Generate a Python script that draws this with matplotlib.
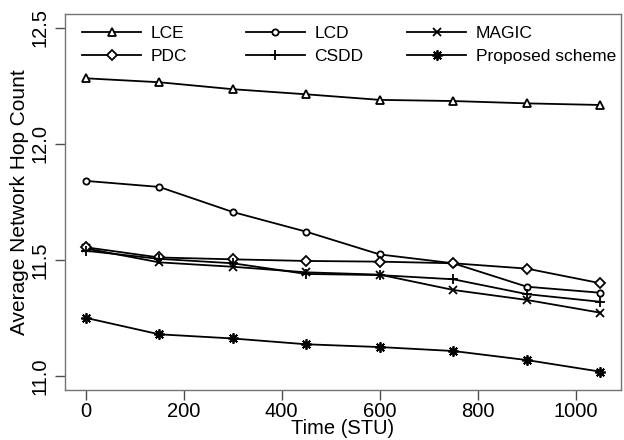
import matplotlib
matplotlib.use("Agg")
import matplotlib.pyplot as plt
from matplotlib.lines import Line2D

plt.rcParams['font.family'] = ['Liberation Sans', 'DejaVu Sans']

# time axis (STU)
time = [0, 150, 300, 450, 600, 750, 900, 1050]

# average network hop count per scheme
lce = [12.283, 12.266, 12.236, 12.214, 12.190, 12.185, 12.175, 12.168]
lcd = [11.841, 11.815, 11.707, 11.622, 11.524, 11.486, 11.385, 11.359]
magic = [11.550, 11.490, 11.471, 11.447, 11.437, 11.371, 11.328, 11.273]
pdc = [11.555, 11.511, 11.503, 11.496, 11.493, 11.486, 11.463, 11.400]
csdd = [11.540, 11.505, 11.486, 11.440, 11.435, 11.417, 11.353, 11.320]
proposed = [11.251, 11.180, 11.162, 11.137, 11.125, 11.108, 11.069, 11.019]

names = ["LCE", "LCD", "MAGIC", "PDC", "CSDD", "Proposed scheme"]
xticks = [0, 200, 400, 600, 800, 1000]
yticks = [11.0, 11.5, 12.0, 12.5]

fig = plt.figure(figsize=(6.24, 4.4), dpi=100)
ax = fig.add_axes([65/624, 1-390/440, (621-65)/624, (390-14)/440])

# marker styles like R pch 2,1,4,5,3,8
styles = [
    dict(marker='^', ms=5.5, mfc='white'),
    dict(marker='o', ms=4.5, mfc='white'),
    dict(marker='x', ms=5.5),
    dict(marker='D', ms=5, mfc='white'),
    dict(marker='+', ms=7.5),
    dict(marker=(8, 2, 0), ms=7.5),
]
series = [lce, lcd, magic, pdc, csdd, proposed]

for vals, st in zip(series, styles):
    ax.plot(time, vals, color='black', lw=1.3, mec='black', mew=1.3, **st)

ax.set_xlim(-42, 1092)
ax.set_ylim(10.94, 12.56)
ax.set_xticks(xticks)
ax.set_yticks(yticks)
ax.set_yticklabels(["%.1f" % v for v in yticks], rotation=90, va='center')
ax.tick_params(labelsize=14.5, length=7, width=1, color='0.3', pad=1.5)
ax.tick_params(axis='y', pad=4)
for sp in ax.spines.values():
    sp.set_color('0.45')
    sp.set_linewidth(1)

ax.set_xlabel("Time (STU)", fontsize=14.5, labelpad=-1)
ax.set_ylabel("Average Network Hop Count", fontsize=15, labelpad=1)

# legend: three columns, two rows, filled row by row (like R)
handles = [Line2D([], [], color='black', lw=1.3, mec='black', mew=1.3, **st) for st in styles]
colx = [0.014, 0.308, 0.598]
for c in range(3):
    leg = ax.legend([handles[c], handles[c+3]], [names[c], names[c+3]],
                    loc='upper left', bbox_to_anchor=(colx[c], 0.995), frameon=False,
                    fontsize=12.5, handlelength=3.4, handletextpad=0.55,
                    labelspacing=0.5, borderaxespad=0.25, borderpad=0.3)
    if c < 2:
        ax.add_artist(leg)

fig.savefig("out.png", dpi=100)
